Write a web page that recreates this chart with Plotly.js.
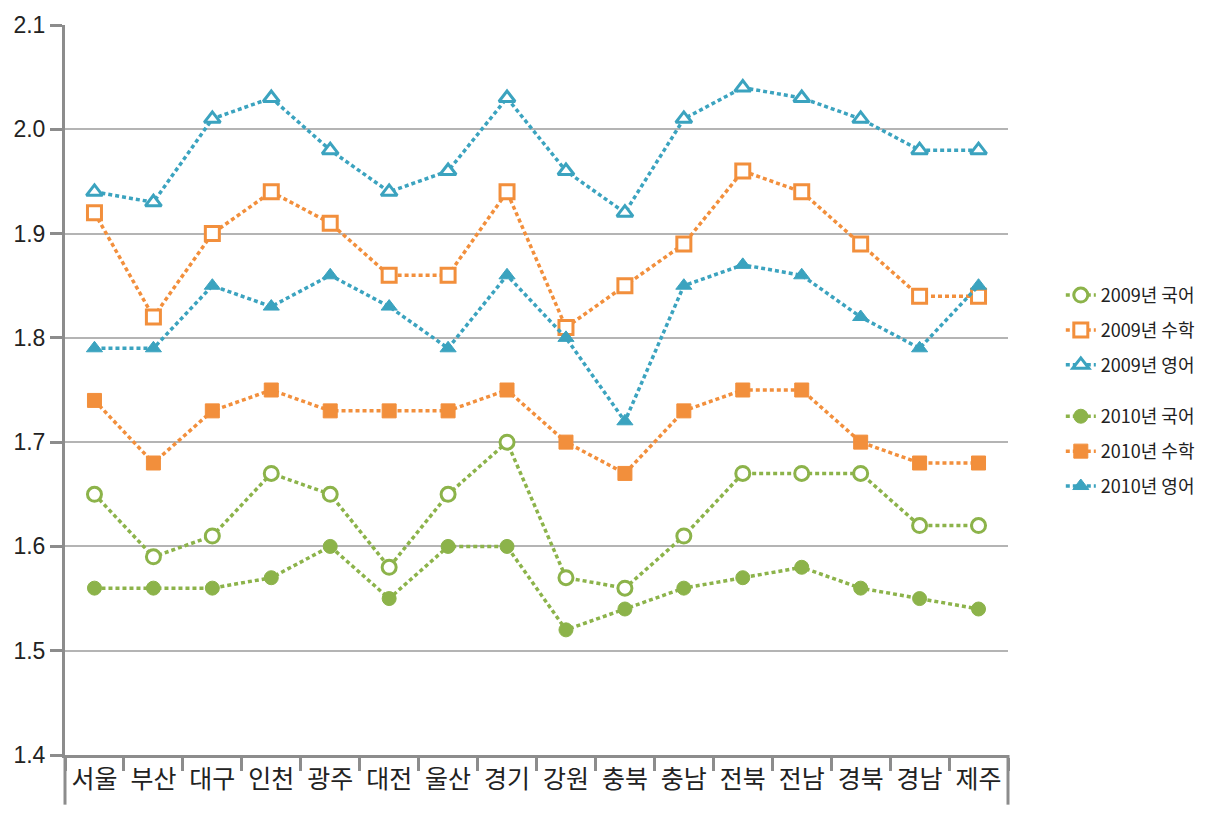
<!DOCTYPE html>
<html>
<head>
<meta charset="utf-8">
<script src="https://cdn.plot.ly/plotly-3.0.1.min.js"></script>
<style>body{margin:0;background:#fff}#chart{width:1219px;height:817px}</style>
</head>
<body>
<div id="chart"></div>
<script>
const regions = ["서울","부산","대구","인천","광주","대전","울산","경기","강원","충북","충남","전북","전남","경북","경남","제주"];
const kor2009 = [1.65,1.59,1.61,1.67,1.65,1.58,1.65,1.70,1.57,1.56,1.61,1.67,1.67,1.67,1.62,1.62];
const math2009 = [1.92,1.82,1.90,1.94,1.91,1.86,1.86,1.94,1.81,1.85,1.89,1.96,1.94,1.89,1.84,1.84];
const eng2009 = [1.94,1.93,2.01,2.03,1.98,1.94,1.96,2.03,1.96,1.92,2.01,2.04,2.03,2.01,1.98,1.98];
const kor2010 = [1.56,1.56,1.56,1.57,1.60,1.55,1.60,1.60,1.52,1.54,1.56,1.57,1.58,1.56,1.55,1.54];
const math2010 = [1.74,1.68,1.73,1.75,1.73,1.73,1.73,1.75,1.70,1.67,1.73,1.75,1.75,1.70,1.68,1.68];
const eng2010 = [1.79,1.79,1.85,1.83,1.86,1.83,1.79,1.86,1.80,1.72,1.85,1.87,1.86,1.82,1.79,1.85];
const seriesNames = ["2009년 국어","2009년 수학","2009년 영어","2010년 국어","2010년 수학","2010년 영어"];

const green = "#8cb34a", orange = "#f28f3c", teal = "#3ba3bf";
function tr(name, y, color, symbol, open, legendId) {
  return {
    type: "scatter", mode: "lines+markers", name: name, x: regions, y: y,
    legend: legendId, legendgroup: name,
    line: {color: color, width: 3.5, dash: "4px,3px"},
    marker: {symbol: symbol, size: 14, color: open ? "#ffffff" : color,
             line: {color: color, width: open ? 3 : 1}},
    cliponaxis: false
  };
}
const data = [
  tr(seriesNames[0], kor2009, green, "circle", true, "legend"),
  tr(seriesNames[1], math2009, orange, "square", true, "legend"),
  tr(seriesNames[2], eng2009, teal, "triangle-up", true, "legend"),
  tr(seriesNames[3], kor2010, green, "circle", false, "legend2"),
  tr(seriesNames[4], math2010, orange, "square", false, "legend2"),
  tr(seriesNames[5], eng2010, teal, "triangle-up", false, "legend2")
];

const legendBase = {xanchor: "left", yanchor: "top", tracegroupgap: 8.5,
  font: {size: 18, color: "#222"}, bgcolor: "rgba(0,0,0,0)"};
const layout = {
  width: 1219, height: 817,
  margin: {l: 65, r: 211, t: 25, b: 62},
  paper_bgcolor: "#ffffff", plot_bgcolor: "#ffffff",
  font: {family: "'Noto Sans CJK KR', 'Noto Sans', sans-serif", color: "#222"},
  showlegend: true,
  legend: Object.assign({x: 1.056, y: 0.655}, legendBase),
  legend2: Object.assign({x: 1.056, y: 0.489}, legendBase),
  xaxis: {
    type: "category", range: [-0.5, 15.5], showgrid: false, zeroline: false,
    showline: true, linecolor: "#8c8c8c", linewidth: 3,
    ticks: "outside", tickson: "boundaries", ticklen: 13, tickwidth: 3, tickcolor: "#8c8c8c",
    tickfont: {size: 25, color: "#222"}
  },
  yaxis: {
    range: [1.4, 2.1], dtick: 0.1, tick0: 1.4, tickformat: ".1f",
    showgrid: true, gridcolor: "#b4b4b4", gridwidth: 2, zeroline: false,
    showline: true, linecolor: "#8c8c8c", linewidth: 3,
    ticks: "outside", ticklen: 12, tickwidth: 3, tickcolor: "#8c8c8c",
    tickfont: {size: 23, color: "#222", family: "'Liberation Sans', Arial, sans-serif"}
  },
  shapes: [
    {type: "line", xref: "paper", yref: "paper", x0: 0, x1: 0, y0: 0, y1: -0.068,
     line: {color: "#8c8c8c", width: 3}},
    {type: "line", xref: "paper", yref: "paper", x0: 1, x1: 1, y0: 0, y1: -0.068,
     line: {color: "#8c8c8c", width: 3}}
  ]
};
Plotly.newPlot("chart", data, layout, {displayModeBar: false});
</script>
</body>
</html>
